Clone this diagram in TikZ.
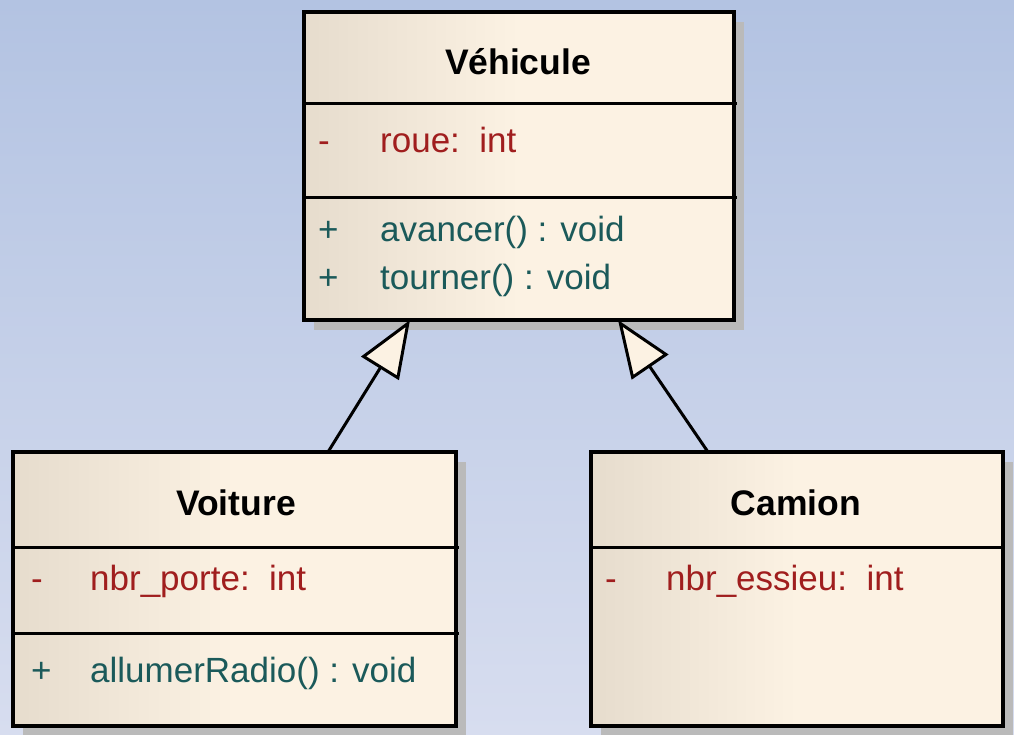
\documentclass[tikz,border=0pt]{standalone}
\usepackage{fontspec}
\setmainfont{Liberation Sans}
\usetikzlibrary{arrows.meta,shadows}
\definecolor{bgtop}{HTML}{B3C3E2}
\definecolor{bgbot}{HTML}{D7DDEF}
\definecolor{boxL}{HTML}{E6DCCD}
\definecolor{boxR}{HTML}{FCF2E3}
\definecolor{attr}{HTML}{A01E1E}
\definecolor{meth}{HTML}{1B5A5A}
\begin{document}
\begin{tikzpicture}[x=1pt,y=-1pt,
  classbox/.style={draw=black, line width=3.2pt, left color=boxL, right color=boxR, middle color=boxR,
    anchor=north west, inner sep=0pt, outer sep=0pt,
    drop shadow={shadow xshift=10pt, shadow yshift=-10pt, fill=black!27, opacity=1}},
  divider/.style={draw=black, line width=3pt},
  txt/.style={anchor=base west, inner sep=0pt, font=\fontsize{35}{42}\selectfont},
  title/.style={anchor=base, inner sep=0pt, font=\fontsize{35.5}{42}\selectfont\bfseries},
  inh/.style={draw=black, line width=3pt, -{Triangle[length=57pt,width=44pt,fill=boxR,line join=miter]}}
]
\useasboundingbox (0,0) rectangle (1014,735);
\shade[top color=bgtop, bottom color=bgbot] (0,0) rectangle (1014,735);

% class boxes
\node[classbox, minimum width=430pt, minimum height=308pt] (veh) at (304,12) {};
\node[classbox, minimum width=443pt, minimum height=274pt] (voit) at (13,452) {};
\node[classbox, minimum width=412pt, minimum height=274pt] (cam) at (591,452) {};

% dividers
\draw[divider] (304,104) -- (737,104);
\draw[divider] (304,198) -- (737,198);
\draw[divider] (13,547) -- (459,547);
\draw[divider] (13,633) -- (459,633);
\draw[divider] (591,547) -- (1003,547);

% Vehicule
\node[title] (vehT) at (518,75) {Véhicule};
\node[txt, text=attr] (vehAv) at (318,153) {-};
\node[txt, text=attr] (vehA) at (380,153) {roue:\ \ int};
\node[txt, text=meth] (vehM1v) at (318,242) {+};
\node[txt, text=meth] (vehM1) at (380,242) {avancer() : void};
\node[txt, text=meth] (vehM2v) at (318,289) {+};
\node[txt, text=meth] (vehM2) at (380,289) {tourner() : void};

% Voiture
\node[title] (voitT) at (236,515) {Voiture};
\node[txt, text=attr] (voitAv) at (31,590) {-};
\node[txt, text=attr] (voitA) at (90,590) {nbr\_porte:\ \ int};
\node[txt, text=meth] (voitMv) at (31,682) {+};
\node[txt, text=meth] (voitM) at (90,682) {allumerRadio() : void};

% Camion
\node[title] (camT) at (796,515) {Camion};
\node[txt, text=attr] (camAv) at (605,590) {-};
\node[txt, text=attr] (camA) at (666,590) {nbr\_essieu:\ \ int};

% inheritance connectors
\coordinate (voitTop) at ([xshift=315pt]voit.north west);
\coordinate (vehL) at ([xshift=106pt]veh.south west);
\coordinate (camTop) at ([xshift=117pt]cam.north west);
\coordinate (vehR) at ([xshift=314pt]veh.south west);
\draw[inh] (voitTop) -- (vehL);
\draw[inh] (camTop) -- (vehR);
\end{tikzpicture}
\end{document}
